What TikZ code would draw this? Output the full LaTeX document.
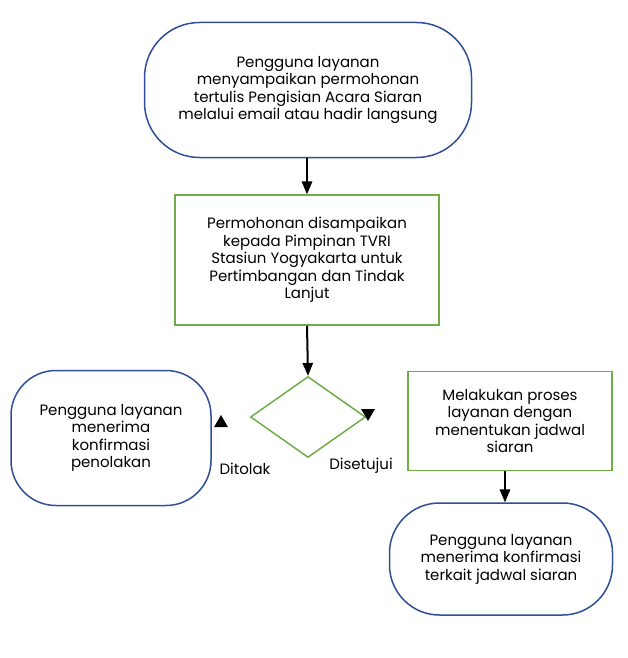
\documentclass[tikz,border=0pt]{standalone}
\usepackage{fontspec}
\setmainfont{Poppins}
\usetikzlibrary{shapes,arrows}
\usetikzlibrary{positioning}
\definecolor{termblue}{RGB}{47,78,150}
\definecolor{procgreen}{RGB}{112,173,71}
\tikzset{
    terminal/.style={draw=termblue, line width=1.5pt, rounded corners=55pt,
        align=center, font=\fontsize{15}{17.5}\selectfont},
    process/.style={draw=procgreen, line width=1.5pt, align=center,
        font=\fontsize{15}{17.5}\selectfont},
    decision/.style={draw=procgreen, line width=1.5pt, diamond, aspect=1.42,
        inner sep=0pt},
    tip/.style={fill=black, regular polygon, regular polygon sides=3,
        inner sep=0pt, minimum size=16pt},
    label/.style={font=\fontsize{15}{17.5}\selectfont},
}
\tikzstyle{line} = [draw, line width=2pt, -triangle 45]
\begin{document}
\begin{tikzpicture}[x=1pt, y=-1pt]
	\useasboundingbox (0,0) rectangle (627,658);
	\node[terminal, minimum width=327pt, minimum height=135pt] (request) at (308,90)
		{Pengguna layanan\\menyampaikan permohonan\\tertulis Pengisian Acara Siaran\\melalui email atau hadir langsung};
	\node[process, minimum width=264pt, minimum height=130pt] (forward) at (307,260)
		{Permohonan disampaikan\\kepada Pimpinan TVRI\\Stasiun Yogyakarta untuk\\Pertimbangan dan Tindak\\Lanjut};
	\node[decision, minimum width=115pt, minimum height=81pt] (decide) at (308,417) {};
	\node[terminal, rounded corners=45pt, minimum width=200pt, minimum height=135pt] (reject) at (111,438)
		{Pengguna layanan\\menerima\\konfirmasi\\penolakan};
	\node[process, minimum width=204pt, minimum height=99pt] (schedule) at (510,421)
		{Melakukan proses\\layanan dengan\\menentukan jadwal\\siaran};
	\node[terminal, rounded corners=50pt, minimum width=223pt, minimum height=112pt] (confirm) at (501,559)
		{Pengguna layanan\\menerima konfirmasi\\terkait jadwal siaran};
	% arrows
	\path[line] (request.south -| 307,0) -- (forward.north -| 307,0);
	\path[line] (forward.south -| 307,0) -- (decide.north);
	\path[line] (schedule.south -| 505,0) -- (confirm.north -| 505,0);
	% loose tips and labels
	\node[tip] (tipno) at (221,423) {};
	\node[tip, shape border rotate=180] (tipyes) at (368,413) {};
	\node[label] (no) at (245,469) {Ditolak};
	\node[label] (yes) at (361,466) {Disetujui};
\end{tikzpicture}
\end{document}
